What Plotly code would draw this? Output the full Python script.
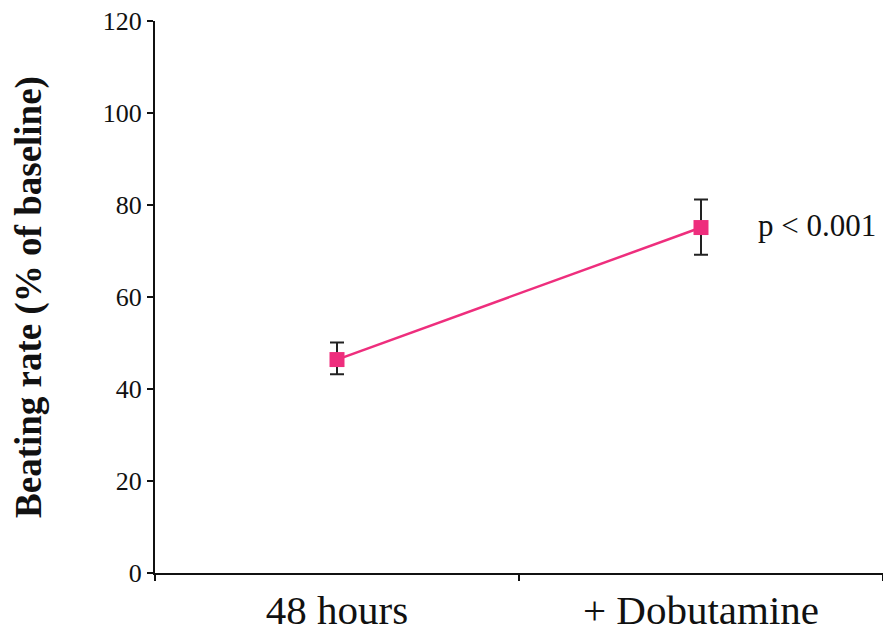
import plotly.graph_objects as go

categories = ["48 hours", "+ Dobutamine"]
values = [46.4, 75.1]
err_plus = [3.7, 6.1]
err_minus = [3.2, 5.9]
yticks = [0, 20, 40, 60, 80, 100, 120]
annotation_text = "p &lt; 0.001"

pink = "#EE2E7D"
serif = "Liberation Serif, Times New Roman, serif"

fig = go.Figure()
fig.add_trace(go.Scatter(
    x=categories, y=values,
    mode="lines+markers",
    line=dict(color=pink, width=2.5),
    marker=dict(symbol="square", size=15, color=pink),
    error_y=dict(type="data", symmetric=False, array=err_plus, arrayminus=err_minus,
                 color="#222222", thickness=2, width=7),
    showlegend=False,
))

fig.add_annotation(x=1.15, y=values[1] + 0.5, xref="x", yref="y",
                   text=annotation_text, showarrow=False, xanchor="left", yanchor="middle",
                   font=dict(family=serif, size=31, color="#111111"))

fig.update_layout(
    width=883, height=636,
    margin=dict(l=155, r=0, t=21, b=63),
    plot_bgcolor="white", paper_bgcolor="white",
    font=dict(family=serif, color="#111111"),
)
fig.update_xaxes(
    type="category", range=[-0.5, 1.5],
    showline=True, linecolor="#111111", linewidth=2,
    ticks="outside", tickson="boundaries", ticklen=6, tickwidth=2, tickcolor="#111111",
    tickfont=dict(family=serif, size=41, color="#111111"),
    showgrid=False, zeroline=False,
)
fig.update_yaxes(
    range=[0, 120], tickvals=yticks,
    showline=True, linecolor="#111111", linewidth=2,
    ticks="outside", ticklen=6, tickwidth=2, tickcolor="#111111",
    tickfont=dict(family=serif, size=26, color="#111111"),
    showgrid=False, zeroline=False,
    automargin=False,
    title=dict(text="<b>Beating rate (% of baseline)</b>",
               font=dict(family=serif, size=37, color="#111111"), standoff=50),
)

fig.write_html("out.html")
